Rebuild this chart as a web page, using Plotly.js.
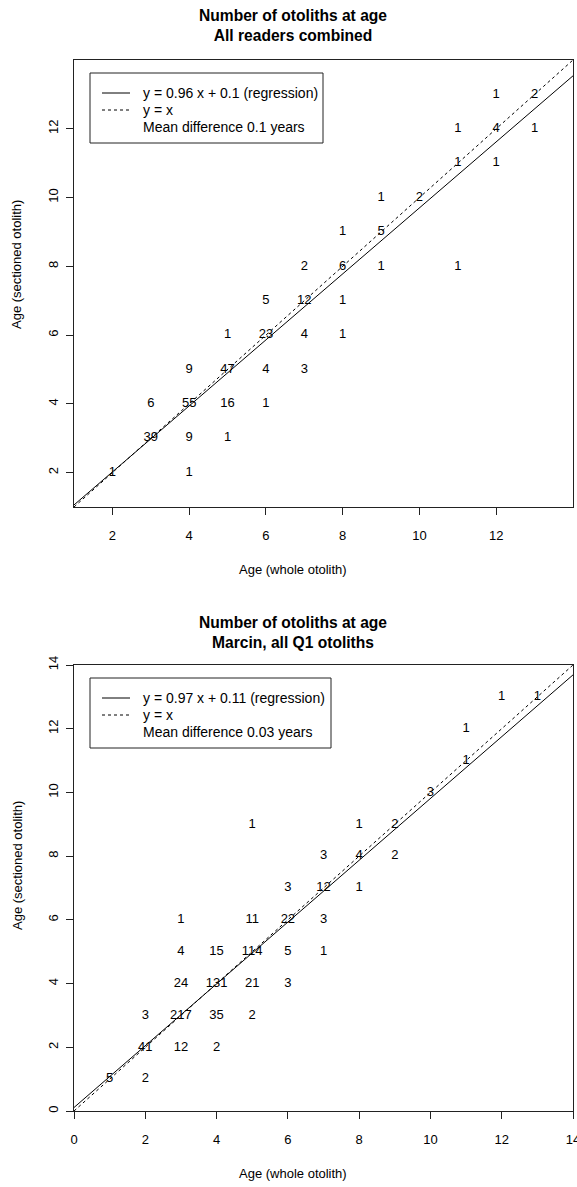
<!DOCTYPE html>
<html><head><meta charset="utf-8">
<script src="https://cdn.plot.ly/plotly-3.0.1.min.js"></script>
<style>html,body{margin:0;padding:0;background:#fff}</style>
</head><body>
<div id="chart" style="width:577px;height:1187px"></div>
<script>
// ---- Panel 1: All readers combined ----
const topTitle = "Number of otoliths at age<br>All readers combined";
const topX = [12,13,11,12,13,11,12,9,10,8,9,7,8,9,11,6,7,8,5,6,7,8,4,5,6,7,3,4,5,6,3,4,5,2,4];
const topY = [13,13,12,12,12,11,11,10,10,9,9,8,8,8,8,7,7,7,6,6,6,6,5,5,5,5,4,4,4,4,3,3,3,2,2];
const topN = [1,2,1,4,1,1,1,1,2,1,5,2,6,1,1,5,12,1,1,23,4,1,9,47,4,3,6,55,16,1,39,9,1,1,1];
const topRange = [1,14];
const topTicks = [2,4,6,8,10,12];
const topSlope = 0.96, topIntercept = 0.1;
const topLegend = ["y = 0.96 x + 0.1 (regression)", "y = x", "Mean difference 0.1 years"];

// ---- Panel 2: Marcin, all Q1 otoliths ----
const botTitle = "Number of otoliths at age<br>Marcin, all Q1 otoliths";
const botX = [12,13,11,11,10,5,8,9,7,8,9,6,7,8,3,5,6,7,3,4,5,6,7,3,4,5,6,2,3,4,5,2,3,4,1,2];
const botY = [13,13,12,11,10,9,9,9,8,8,8,7,7,7,6,6,6,6,5,5,5,5,5,4,4,4,4,3,3,3,3,2,2,2,1,1];
const botN = [1,1,1,1,3,1,1,2,3,4,2,3,12,1,1,11,22,3,4,15,114,5,1,24,131,21,3,3,217,35,2,41,12,2,5,2];
const botRange = [0,14];
const botTicks = [0,2,4,6,8,10,12,14];
const botSlope = 0.97, botIntercept = 0.11;
const botLegend = ["y = 0.97 x + 0.11 (regression)", "y = x", "Mean difference 0.03 years"];

const xTitle = "Age (whole otolith)";
const yTitle = "Age (sectioned otolith)";

const FONT = "Liberation Sans, Arial, sans-serif";
const W = 577, H = 1187;
const px = v => v / W;
const py = v => 1 - v / H;

function panelTraces(xs, ys, ns, range, slope, icpt, xa, ya) {
  return [
    {x: xs, y: ys, text: ns.map(String), mode: 'text', type: 'scatter',
     textfont: {family: FONT, size: 13, color: '#000'}, textposition: 'middle center',
     xaxis: xa, yaxis: ya, showlegend: false, hoverinfo: 'skip'},
    {x: range, y: range.map(v => slope * v + icpt), mode: 'lines', type: 'scatter',
     line: {color: '#000', width: 1}, xaxis: xa, yaxis: ya, showlegend: false},
    {x: range, y: range, mode: 'lines', type: 'scatter',
     line: {color: '#000', width: 1, dash: 'dot'}, xaxis: xa, yaxis: ya, showlegend: false}
  ];
}

const data = [
  ...panelTraces(topX, topY, topN, topRange, topSlope, topIntercept, 'x', 'y'),
  ...panelTraces(botX, botY, botN, botRange, botSlope, botIntercept, 'x2', 'y2')
];

function axis(range, ticks, domain, anchor, isY) {
  return {
    range: range, domain: domain, anchor: anchor,
    tickmode: 'array', tickvals: ticks, ticktext: ticks.map(String),
    ticks: 'outside', ticklen: 7, tickwidth: 1, tickcolor: '#222',
    showline: true, linecolor: '#222', linewidth: 1, mirror: true,
    showgrid: false, zeroline: false,
    tickfont: {family: FONT, size: 13, color: '#000'},
    tickangle: isY ? -90 : 0,
    ticklabelstandoff: isY ? 3 : 9,
    ticklabeloverflow: 'allow',
    fixedrange: true
  };
}

function ann(text, x, y, opts) {
  return Object.assign({text: text, x: x, y: y, xref: 'paper', yref: 'paper',
    showarrow: false, xanchor: 'center', yanchor: 'middle',
    font: {family: FONT, size: 13, color: '#000'}}, opts || {});
}

// legend drawn as box + samples + labels (pixel positions of the legend frame)
function legendParts(labels, left, top, right) {
  const rows = [top + 20, top + 37, top + 54];
  const shapes = [
    {type: 'rect', xref: 'paper', yref: 'paper', x0: px(left), x1: px(right), y0: py(top), y1: py(top + 70),
     line: {color: '#222', width: 1}, fillcolor: 'rgba(0,0,0,0)'},
    {type: 'line', xref: 'paper', yref: 'paper', x0: px(left + 12), x1: px(left + 40), y0: py(rows[0]), y1: py(rows[0]),
     line: {color: '#000', width: 1}},
    {type: 'line', xref: 'paper', yref: 'paper', x0: px(left + 12), x1: px(left + 40), y0: py(rows[1]), y1: py(rows[1]),
     line: {color: '#000', width: 1, dash: 'dot'}}
  ];
  const anns = labels.map((t, i) => ann(t, px(left + 51), py(rows[i]),
    {xanchor: 'left', font: {family: FONT, size: 14, color: '#000'}}));
  return {shapes, anns};
}

const legTop = legendParts(topLegend, 90, 73, 323);
const legBot = legendParts(botLegend, 90, 678, 331);

const titleFont = {family: FONT, size: 15.6, color: '#000', weight: 'bold'};
const xDom = [px(74), px(573)];

const layout = {
  width: W, height: H,
  margin: {l: 0, r: 0, t: 0, b: 0},
  paper_bgcolor: '#fff', plot_bgcolor: '#fff',
  showlegend: false,
  xaxis: axis(topRange, topTicks, xDom, 'y', false),
  yaxis: axis(topRange, topTicks, [py(507), py(60)], 'x', true),
  xaxis2: axis(botRange, botTicks, xDom, 'y2', false),
  yaxis2: axis(botRange, botTicks, [py(1111), py(665)], 'x2', true),
  shapes: [...legTop.shapes, ...legBot.shapes],
  annotations: [
    ann('<b>' + topTitle + '</b>', px(293), py(25.5), {font: titleFont}),
    ann('<b>' + botTitle + '</b>', px(293), py(632), {font: titleFont}),
    ann(xTitle, px(293), py(570)),
    ann(xTitle, px(293), py(1173)),
    ann(yTitle, px(17), py(265), {textangle: -90}),
    ann(yTitle, px(17), py(866), {textangle: -90}),
    ...legTop.anns, ...legBot.anns
  ]
};

Plotly.newPlot('chart', data, layout, {staticPlot: true, displayModeBar: false});
</script>
</body></html>
